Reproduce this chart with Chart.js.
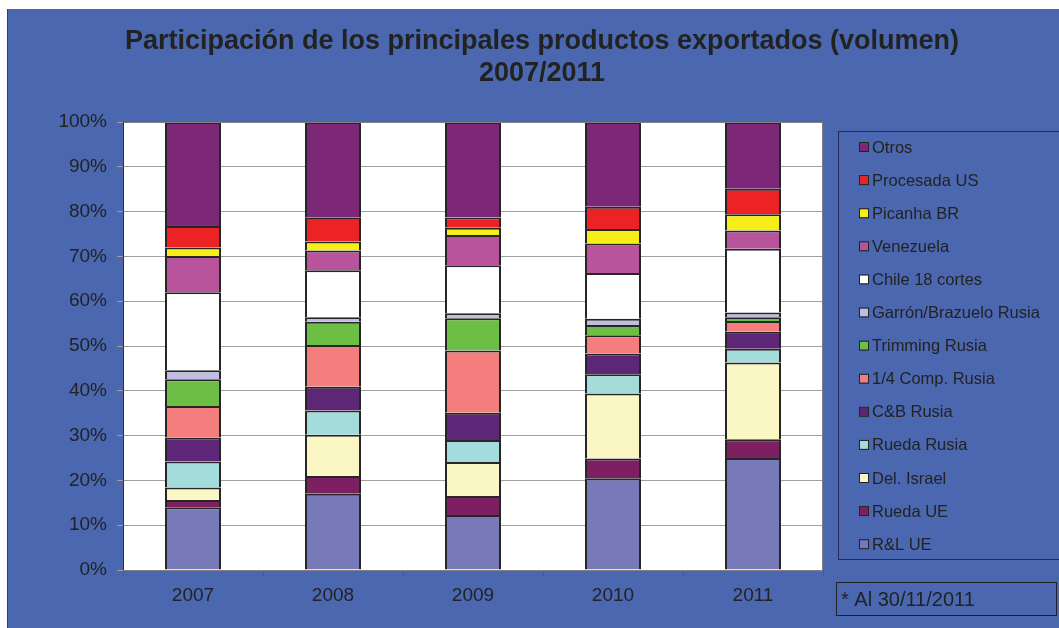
<!DOCTYPE html>
<html>
<head>
<meta charset="utf-8">
<script src="https://cdn.jsdelivr.net/npm/chart.js@4"></script>
<style>
  html, body { margin: 0; padding: 0; background: #fff; }
  #wrap { width: 1059px; height: 628px; position: relative; }
</style>
</head>
<body>
<div id="wrap"><canvas id="grafico" width="1059" height="628"></canvas></div>
<script>
// datos (porcentaje del volumen)
const anios = ['2007', '2008', '2009', '2010', '2011'];
const etiquetas_y = ['0%', '10%', '20%', '30%', '40%', '50%', '60%', '70%', '80%', '90%', '100%'];

const rl_ue       = [14.0, 17.0, 12.3, 20.5, 25.0];
const rueda_ue    = [1.6, 4.0, 4.2, 4.4, 4.2];
const del_israel  = [2.8, 9.2, 7.6, 14.5, 17.1];
const rueda_rusia = [5.8, 5.4, 4.9, 4.3, 3.1];
const cb_rusia    = [5.4, 5.3, 6.1, 4.6, 3.8];
const comp_rusia  = [7.0, 9.3, 13.9, 4.1, 2.4];
const trimming    = [6.0, 5.2, 7.2, 2.3, 0.8];
const garron      = [2.0, 1.0, 1.1, 1.4, 1.1];
const chile       = [17.4, 10.5, 10.7, 10.2, 14.2];
const venezuela   = [8.1, 4.4, 6.8, 6.6, 4.1];
const picanha     = [1.9, 2.0, 1.6, 3.2, 3.6];
const procesada   = [4.8, 5.3, 2.3, 5.0, 5.7];
const otros       = [23.2, 21.4, 21.3, 18.9, 14.9];

const titulo = ['Participación de los principales productos exportados (volumen)', '2007/2011'];
const nota = '* Al 30/11/2011';

// series de abajo hacia arriba
const series = [
  ['R&L UE', rl_ue, '#7779b8'],
  ['Rueda UE', rueda_ue, '#7d2062'],
  ['Del. Israel', del_israel, '#faf7c4'],
  ['Rueda Rusia', rueda_rusia, '#a4dcdc'],
  ['C&B Rusia', cb_rusia, '#5e2677'],
  ['1/4 Comp. Rusia', comp_rusia, '#f47e7e'],
  ['Trimming Rusia', trimming, '#6dbe45'],
  ['Garrón/Brazuelo Rusia', garron, '#bfbde0'],
  ['Chile 18 cortes', chile, '#ffffff'],
  ['Venezuela', venezuela, '#b8549b'],
  ['Picanha BR', picanha, '#f7ee17'],
  ['Procesada US', procesada, '#ed2224'],
  ['Otros', otros, '#7d2779']
];

const fuente = '"Liberation Sans", Arial, sans-serif';

// fondo azul, titulo, leyenda y nota
const decoracion = {
  id: 'decoracion',
  beforeDraw(chart) {
    const c = chart.ctx;
    c.save();
    c.fillStyle = '#ffffff';
    c.fillRect(0, 0, chart.width, chart.height);
    c.fillStyle = '#4a67b0';
    c.fillRect(7, 9, chart.width - 7, chart.height - 9);
    c.strokeStyle = '#2d3f70';
    c.lineWidth = 1;
    c.beginPath();
    c.moveTo(7.5, 9); c.lineTo(7.5, chart.height);
    c.stroke();
    // area del grafico en blanco
    const a = chart.chartArea;
    c.fillStyle = '#ffffff';
    c.fillRect(a.left, a.top, a.right - a.left, a.bottom - a.top);
    c.restore();
  },
  afterDraw(chart) {
    const c = chart.ctx;
    const a = chart.chartArea;
    c.save();
    // borde del area
    c.strokeStyle = '#808080';
    c.lineWidth = 1;
    c.strokeRect(a.left + 0.5, a.top + 0.5, a.right - a.left - 1, a.bottom - a.top);
    c.strokeStyle = '#333333';
    c.beginPath();
    c.moveTo(a.left + 0.5, a.top); c.lineTo(a.left + 0.5, a.bottom);
    c.stroke();

    // titulo
    c.fillStyle = '#222222';
    c.textAlign = 'center';
    c.textBaseline = 'middle';
    c.font = 'bold 27px ' + fuente;
    c.fillText(titulo[0], 542, 42);
    c.fillText(titulo[1], 542, 74);

    // leyenda
    c.strokeStyle = '#2a2a50';
    c.lineWidth = 1;
    c.strokeRect(838.5, 131.5, 225, 428);
    c.font = '16.5px ' + fuente;
    c.textAlign = 'left';
    const dsets = chart.data.datasets;
    for (let i = 0; i < dsets.length; i++) {
      const ds = dsets[dsets.length - 1 - i];
      const y = 147 + i * 33.1;
      c.fillStyle = ds.backgroundColor;
      c.fillRect(860, y - 4, 8, 8);
      c.strokeStyle = '#222222';
      c.strokeRect(859.5, y - 4.5, 9, 9);
      c.fillStyle = '#222222';
      c.fillText(ds.label, 872, y + 1);
    }

    // nota
    c.strokeStyle = '#222222';
    c.strokeRect(836.5, 582.5, 220, 33);
    c.font = '20px ' + fuente;
    c.fillText(nota, 841, 600);
    c.restore();
  }
};

function armar_datasets() {
  return series.map(s => ({
    label: s[0],
    data: s[1],
    backgroundColor: s[2],
    borderColor: '#262626',
    borderWidth: 2,
    barPercentage: 0.4,
    categoryPercentage: 1.0
  }));
}

new Chart(document.getElementById('grafico'), {
  type: 'bar',
  data: { labels: anios, datasets: armar_datasets() },
  options: {
    responsive: false,
    animation: false,
    layout: { padding: { left: 0, right: 236, top: 122, bottom: 0 } },
    plugins: { legend: { display: false }, title: { display: false }, tooltip: { enabled: false } },
    scales: {
      x: {
        stacked: true,
        grid: { drawOnChartArea: false, color: '#555577', tickLength: 6 },
        border: { display: false },
        ticks: { color: '#222222', font: { family: fuente, size: 19 }, padding: 8 },
        afterFit(scale) { scale.height = 58; }
      },
      y: {
        stacked: true,
        min: 0,
        max: 100,
        grid: { color: '#a0a0a0', tickLength: 6 },
        border: { display: false },
        ticks: {
          stepSize: 10,
          color: '#222222',
          font: { family: fuente, size: 19 },
          padding: 10,
          callback: (v) => etiquetas_y[Math.round(v / 10)]
        },
        afterFit(scale) { scale.width = 123; }
      }
    }
  },
  plugins: [decoracion]
});
</script>
</body>
</html>
